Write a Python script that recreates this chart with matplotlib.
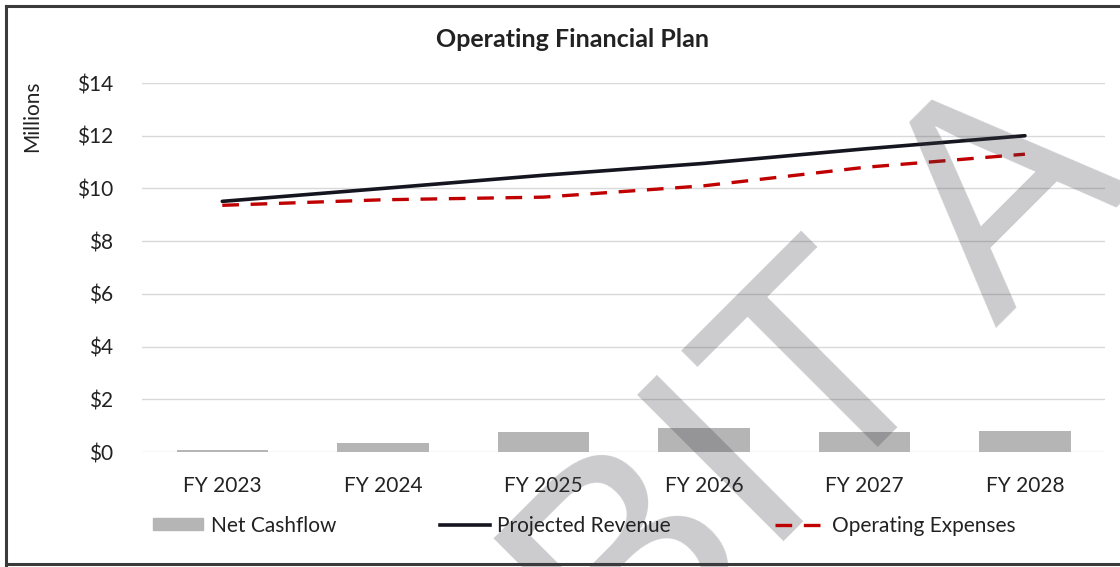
import matplotlib
matplotlib.use("Agg")
import matplotlib.pyplot as plt
from matplotlib.lines import Line2D
from matplotlib.patches import Patch
from matplotlib.ticker import FuncFormatter

plt.rcParams['font.family'] = ['Lato', 'DejaVu Sans']

years = ["FY 2023", "FY 2024", "FY 2025", "FY 2026", "FY 2027", "FY 2028"]
net_cashflow = [0.08, 0.35, 0.77, 0.91, 0.77, 0.81]
revenue = [9.51, 10.0, 10.5, 10.95, 11.5, 12.0]
expenses = [9.36, 9.57, 9.67, 10.1, 10.8, 11.3]

fig = plt.figure(figsize=(11.2, 5.67), dpi=100)
ax = fig.add_axes([0.1268, 0.2028, 0.86, 0.6508])

x = list(range(len(years)))
ax.bar(x, net_cashflow, width=0.57, color="#b5b5b5", zorder=2)
ax.plot(x, revenue, color="#15151f", lw=2.6, solid_capstyle="round", zorder=3)
ax.plot(x, expenses, color="#c00000", lw=2.4, dashes=(5, 3.5), zorder=3)

ax.set_xlim(-0.5, len(years) - 0.5)
ax.set_ylim(0, 14)
ax.set_yticks(range(0, 15, 2))
ax.yaxis.set_major_formatter(FuncFormatter(lambda v, p: "$%d" % v))
ax.set_xticks(x)
ax.set_xticklabels(years)
ax.tick_params(length=0, labelsize=15, colors="#222222")
ax.tick_params(axis="x", pad=17)
ax.tick_params(axis="y", pad=21)
ax.grid(axis="y", color="#d9d9d9", lw=1, zorder=0)
for s in ax.spines.values():
    s.set_visible(False)

fig.text(0.511, 0.93, "Operating Financial Plan", ha="center", va="center",
         fontsize=18, fontweight="bold", color="#222222")
fig.text(0.029, 0.795, "Millions", rotation=90, ha="center", va="center",
         fontsize=15, color="#222222")

handles = [Patch(color="#b5b5b5"),
           Line2D([], [], color="#15151f", lw=2.6),
           Line2D([], [], color="#c00000", lw=2.4, dashes=(5, 3.5))]
fig.legend(handles, ["Net Cashflow", "Projected Revenue", "Operating Expenses"],
           loc="center", bbox_to_anchor=(0.522, 0.073), ncol=3, frameon=False,
           fontsize=15, handlelength=2.4, handleheight=0.5, columnspacing=5.0,
           handletextpad=0.35, labelcolor="#222222")

# watermark
fig.text(0.114, -1.111, "EXHIBIT A", rotation=45, rotation_mode="anchor",
         ha="left", va="baseline", fontsize=216, family="Liberation Sans",
         color="#404048", alpha=0.27, zorder=5)

# scanned page frame
for xs, ys in [([0.005, 0.005], [0, 0.99]), ([0.005, 1], [0.99, 0.99]),
               ([0.005, 1], [0.006, 0.006])]:
    fig.add_artist(Line2D(xs, ys, color="#3a3a3a", lw=2.2))

fig.savefig("out.png", dpi=100)
